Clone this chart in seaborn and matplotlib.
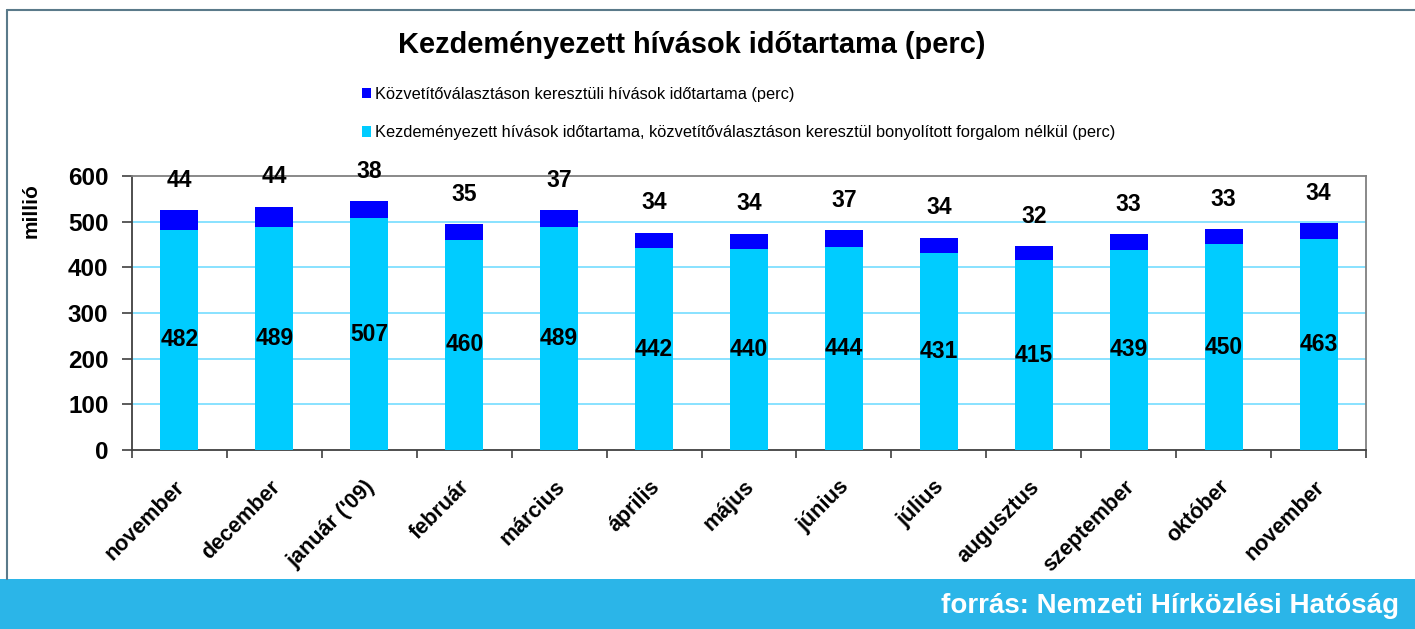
import matplotlib
matplotlib.use("Agg")
import matplotlib.pyplot as plt
import seaborn as sns
import pandas as pd
import numpy as np
from matplotlib.patches import Patch, Rectangle
from matplotlib.lines import Line2D
from matplotlib.transforms import ScaledTranslation

months = ["november", "december", "január ('09)", "február", "március", "április",
          "május", "június", "július", "augusztus", "szeptember", "október", "november"]
base_values = [482, 489, 507, 460, 489, 442, 440, 444, 431, 415, 439, 450, 463]
carrier_values = [44, 44, 38, 35, 37, 34, 34, 37, 34, 32, 33, 33, 34]

title = "Kezdeményezett hívások időtartama (perc)"
label_carrier = "Közvetítőválasztáson keresztüli hívások időtartama (perc)"
label_base = "Kezdeményezett hívások időtartama, közvetítőválasztáson keresztül bonyolított forgalom nélkül (perc)"
y_label = "millió"
source_text = "forrás: Nemzeti Hírközlési Hatóság"
y_ticks = [0, 100, 200, 300, 400, 500, 600]

sns.set_theme(style="white")
plt.rcParams["font.family"] = ["Liberation Sans", "DejaVu Sans"]
plt.rcParams["text.color"] = "black"
plt.rcParams["axes.labelcolor"] = "black"
plt.rcParams["xtick.color"] = "black"
plt.rcParams["ytick.color"] = "black"

x_keys = [f"{i:02d}" for i in range(len(months))]
df = pd.DataFrame({"key": x_keys, "base": base_values, "carrier": carrier_values})
df["total"] = df["base"] + df["carrier"]

C_BASE = "#00CCFF"
C_TOP = "#0000FF"

fig = plt.figure(figsize=(14.15, 6.29), dpi=100)
ax = fig.add_axes([0.0933, 0.2846, 0.8721, 0.4356])

sns.barplot(data=df, x="key", y="total", color=C_TOP, width=0.4, ax=ax,
            saturation=1, zorder=3, linewidth=0)
sns.barplot(data=df, x="key", y="base", color=C_BASE, width=0.4, ax=ax,
            saturation=1, zorder=4, linewidth=0)

ax.set_xlim(-0.5, len(months) - 0.5)
ax.set_ylim(0, 600)
ax.set_yticks(y_ticks)
ax.set_yticklabels([str(t) for t in y_ticks], fontsize=17.5, fontweight="bold", color="black")
ax.set_xticks(range(len(months)))
ax.set_xticklabels(months, rotation=45, ha="right", va="top", rotation_mode="anchor",
                   fontsize=15.5, fontweight="bold", color="black")
ax.set_xticks(np.arange(-0.5, len(months), 1.0), minor=True)
ax.tick_params(axis="x", which="major", length=0, pad=19)
ax.tick_params(axis="x", which="minor", length=6, width=1.2, color="#404040", bottom=True)
ax.tick_params(axis="y", which="major", length=7, width=1.2, color="#404040", left=True, pad=10)
offset = ScaledTranslation(-0.05, 0, fig.dpi_scale_trans)
for lbl in ax.get_xticklabels():
    lbl.set_transform(lbl.get_transform() + offset)
ax.set_xlabel("")
ax.set_ylabel(y_label, fontsize=15, fontweight="bold", color="black")
ax.yaxis.set_label_coords(-0.074, 0.873)

for v in [100, 200, 300, 400, 500]:
    ax.axhline(v, color="#7FDFFF", linewidth=1.3, zorder=1)

for side in ["left", "bottom"]:
    ax.spines[side].set_color("#404040")
    ax.spines[side].set_linewidth(1.3)
for side in ["top", "right"]:
    ax.spines[side].set_color("#808080")
    ax.spines[side].set_linewidth(1.3)
    ax.spines[side].set_visible(True)

for i, (b, c, t) in enumerate(zip(df["base"], df["carrier"], df["total"])):
    ax.text(i, b / 2, str(b), ha="center", va="center", fontsize=16.5,
            fontweight="bold", color="black", zorder=6)
    ax.text(i, t + 65, str(c), ha="center", va="center", fontsize=16.5,
            fontweight="bold", color="black", zorder=6, clip_on=False)

fig.text(0.489, 0.928, title, ha="center", va="center", fontsize=20.9,
         fontweight="bold", color="black")

handles = [Patch(facecolor=C_TOP, edgecolor="none"), Patch(facecolor=C_BASE, edgecolor="none")]
leg = fig.legend(handles, [label_carrier, label_base], loc="upper left",
                 bbox_to_anchor=(0.2555, 0.862), frameon=False, fontsize=11.8,
                 handlelength=0.6, handleheight=0.6, handletextpad=0.25,
                 labelspacing=1.44, borderaxespad=0, borderpad=0)
for txt in leg.get_texts():
    txt.set_color("black")

# banner
fig.patches.append(Rectangle((0, 0), 1, 0.0795, transform=fig.transFigure,
                             facecolor="#2BB5E8", edgecolor="none", zorder=0))
fig.text(0.989, 0.036, source_text, ha="right", va="center", fontsize=20,
         fontweight="bold", color="white")

# frame lines
fig.lines.append(Line2D([0.005, 1.0], [0.984, 0.984], transform=fig.transFigure,
                        color="#5A7A8A", linewidth=1.5))
fig.lines.append(Line2D([0.005, 0.005], [0.0795, 0.984], transform=fig.transFigure,
                        color="#5A7A8A", linewidth=1.5))

fig.savefig("out.png", dpi=100)
